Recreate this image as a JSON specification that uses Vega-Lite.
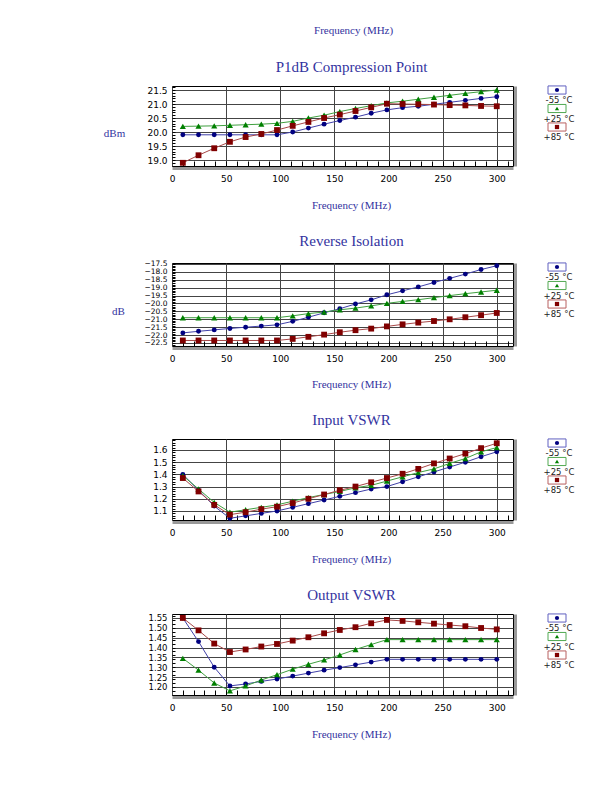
{
"$schema":"https://vega.github.io/schema/vega-lite/v6.json",
"padding":{"left":102,"top":24,"right":5,"bottom":5},
"title":{"text":"Frequency (MHz)","fontSize":11,"anchor":"middle","offset":24,"dx":15},
"datasets":{
"p1":[
{"f":10,"s":"m55","v":19.9},{"f":24.5,"s":"m55","v":19.9},{"f":39,"s":"m55","v":19.9},{"f":53.5,"s":"m55","v":19.9},{"f":68,"s":"m55","v":19.9},{"f":82.5,"s":"m55","v":19.9},{"f":97,"s":"m55","v":19.9},{"f":111.5,"s":"m55","v":20.0},{"f":126,"s":"m55","v":20.14},{"f":140.5,"s":"m55","v":20.28},{"f":155,"s":"m55","v":20.41},{"f":169.5,"s":"m55","v":20.53},{"f":184,"s":"m55","v":20.67},{"f":198.5,"s":"m55","v":20.79},{"f":213,"s":"m55","v":20.87},{"f":227.5,"s":"m55","v":20.92},{"f":242,"s":"m55","v":20.99},{"f":256.5,"s":"m55","v":21.06},{"f":271,"s":"m55","v":21.13},{"f":285.5,"s":"m55","v":21.2},{"f":300,"s":"m55","v":21.26},
{"f":10,"s":"p25","v":20.2},{"f":24.5,"s":"p25","v":20.21},{"f":39,"s":"p25","v":20.22},{"f":53.5,"s":"p25","v":20.24},{"f":68,"s":"p25","v":20.26},{"f":82.5,"s":"p25","v":20.28},{"f":97,"s":"p25","v":20.31},{"f":111.5,"s":"p25","v":20.38},{"f":126,"s":"p25","v":20.5},{"f":140.5,"s":"p25","v":20.6},{"f":155,"s":"p25","v":20.73},{"f":169.5,"s":"p25","v":20.84},{"f":184,"s":"p25","v":20.94},{"f":198.5,"s":"p25","v":21.04},{"f":213,"s":"p25","v":21.1},{"f":227.5,"s":"p25","v":21.17},{"f":242,"s":"p25","v":21.24},{"f":256.5,"s":"p25","v":21.31},{"f":271,"s":"p25","v":21.38},{"f":285.5,"s":"p25","v":21.44},{"f":300,"s":"p25","v":21.5},
{"f":10,"s":"p85","v":18.9},{"f":24.5,"s":"p85","v":19.17},{"f":39,"s":"p85","v":19.42},{"f":53.5,"s":"p85","v":19.65},{"f":68,"s":"p85","v":19.82},{"f":82.5,"s":"p85","v":19.93},{"f":97,"s":"p85","v":20.07},{"f":111.5,"s":"p85","v":20.22},{"f":126,"s":"p85","v":20.36},{"f":140.5,"s":"p85","v":20.5},{"f":155,"s":"p85","v":20.62},{"f":169.5,"s":"p85","v":20.75},{"f":184,"s":"p85","v":20.88},{"f":198.5,"s":"p85","v":21.01},{"f":213,"s":"p85","v":21.0},{"f":227.5,"s":"p85","v":20.99},{"f":242,"s":"p85","v":20.98},{"f":256.5,"s":"p85","v":20.96},{"f":271,"s":"p85","v":20.95},{"f":285.5,"s":"p85","v":20.93},{"f":300,"s":"p85","v":20.92}
],
"ri":[
{"f":10,"s":"m55","v":-21.86},{"f":24.5,"s":"m55","v":-21.76},{"f":39,"s":"m55","v":-21.67},{"f":53.5,"s":"m55","v":-21.58},{"f":68,"s":"m55","v":-21.5},{"f":82.5,"s":"m55","v":-21.43},{"f":97,"s":"m55","v":-21.35},{"f":111.5,"s":"m55","v":-21.13},{"f":126,"s":"m55","v":-20.87},{"f":140.5,"s":"m55","v":-20.59},{"f":155,"s":"m55","v":-20.33},{"f":169.5,"s":"m55","v":-20.03},{"f":184,"s":"m55","v":-19.77},{"f":198.5,"s":"m55","v":-19.45},{"f":213,"s":"m55","v":-19.2},{"f":227.5,"s":"m55","v":-18.95},{"f":242,"s":"m55","v":-18.67},{"f":256.5,"s":"m55","v":-18.41},{"f":271,"s":"m55","v":-18.14},{"f":285.5,"s":"m55","v":-17.85},{"f":300,"s":"m55","v":-17.61},
{"f":10,"s":"p25","v":-20.9},{"f":24.5,"s":"p25","v":-20.9},{"f":39,"s":"p25","v":-20.9},{"f":53.5,"s":"p25","v":-20.9},{"f":68,"s":"p25","v":-20.9},{"f":82.5,"s":"p25","v":-20.9},{"f":97,"s":"p25","v":-20.9},{"f":111.5,"s":"p25","v":-20.78},{"f":126,"s":"p25","v":-20.64},{"f":140.5,"s":"p25","v":-20.54},{"f":155,"s":"p25","v":-20.4},{"f":169.5,"s":"p25","v":-20.29},{"f":184,"s":"p25","v":-20.15},{"f":198.5,"s":"p25","v":-19.99},{"f":213,"s":"p25","v":-19.87},{"f":227.5,"s":"p25","v":-19.76},{"f":242,"s":"p25","v":-19.63},{"f":256.5,"s":"p25","v":-19.5},{"f":271,"s":"p25","v":-19.38},{"f":285.5,"s":"p25","v":-19.27},{"f":300,"s":"p25","v":-19.16},
{"f":10,"s":"p85","v":-22.34},{"f":24.5,"s":"p85","v":-22.34},{"f":39,"s":"p85","v":-22.34},{"f":53.5,"s":"p85","v":-22.34},{"f":68,"s":"p85","v":-22.34},{"f":82.5,"s":"p85","v":-22.34},{"f":97,"s":"p85","v":-22.34},{"f":111.5,"s":"p85","v":-22.24},{"f":126,"s":"p85","v":-22.11},{"f":140.5,"s":"p85","v":-21.97},{"f":155,"s":"p85","v":-21.82},{"f":169.5,"s":"p85","v":-21.69},{"f":184,"s":"p85","v":-21.59},{"f":198.5,"s":"p85","v":-21.45},{"f":213,"s":"p85","v":-21.32},{"f":227.5,"s":"p85","v":-21.21},{"f":242,"s":"p85","v":-21.11},{"f":256.5,"s":"p85","v":-21.0},{"f":271,"s":"p85","v":-20.87},{"f":285.5,"s":"p85","v":-20.74},{"f":300,"s":"p85","v":-20.6}
],
"iv":[
{"f":10,"s":"m55","v":1.4},{"f":24.5,"s":"m55","v":1.27},{"f":39,"s":"m55","v":1.14},{"f":53.5,"s":"m55","v":1.04},{"f":68,"s":"m55","v":1.06},{"f":82.5,"s":"m55","v":1.08},{"f":97,"s":"m55","v":1.1},{"f":111.5,"s":"m55","v":1.13},{"f":126,"s":"m55","v":1.16},{"f":140.5,"s":"m55","v":1.19},{"f":155,"s":"m55","v":1.22},{"f":169.5,"s":"m55","v":1.25},{"f":184,"s":"m55","v":1.28},{"f":198.5,"s":"m55","v":1.3},{"f":213,"s":"m55","v":1.34},{"f":227.5,"s":"m55","v":1.38},{"f":242,"s":"m55","v":1.42},{"f":256.5,"s":"m55","v":1.46},{"f":271,"s":"m55","v":1.5},{"f":285.5,"s":"m55","v":1.545},{"f":300,"s":"m55","v":1.585},
{"f":10,"s":"p25","v":1.39},{"f":24.5,"s":"p25","v":1.28},{"f":39,"s":"p25","v":1.17},{"f":53.5,"s":"p25","v":1.09},{"f":68,"s":"p25","v":1.11},{"f":82.5,"s":"p25","v":1.13},{"f":97,"s":"p25","v":1.15},{"f":111.5,"s":"p25","v":1.18},{"f":126,"s":"p25","v":1.21},{"f":140.5,"s":"p25","v":1.235},{"f":155,"s":"p25","v":1.26},{"f":169.5,"s":"p25","v":1.29},{"f":184,"s":"p25","v":1.31},{"f":198.5,"s":"p25","v":1.345},{"f":213,"s":"p25","v":1.38},{"f":227.5,"s":"p25","v":1.415},{"f":242,"s":"p25","v":1.445},{"f":256.5,"s":"p25","v":1.49},{"f":271,"s":"p25","v":1.53},{"f":285.5,"s":"p25","v":1.585},{"f":300,"s":"p25","v":1.62},
{"f":10,"s":"p85","v":1.37},{"f":24.5,"s":"p85","v":1.26},{"f":39,"s":"p85","v":1.15},{"f":53.5,"s":"p85","v":1.07},{"f":68,"s":"p85","v":1.09},{"f":82.5,"s":"p85","v":1.115},{"f":97,"s":"p85","v":1.135},{"f":111.5,"s":"p85","v":1.165},{"f":126,"s":"p85","v":1.2},{"f":140.5,"s":"p85","v":1.235},{"f":155,"s":"p85","v":1.27},{"f":169.5,"s":"p85","v":1.3},{"f":184,"s":"p85","v":1.335},{"f":198.5,"s":"p85","v":1.37},{"f":213,"s":"p85","v":1.405},{"f":227.5,"s":"p85","v":1.445},{"f":242,"s":"p85","v":1.49},{"f":256.5,"s":"p85","v":1.53},{"f":271,"s":"p85","v":1.57},{"f":285.5,"s":"p85","v":1.615},{"f":300,"s":"p85","v":1.655}
],
"ov":[
{"f":10,"s":"m55","v":1.55},{"f":24.5,"s":"m55","v":1.43},{"f":39,"s":"m55","v":1.3},{"f":53.5,"s":"m55","v":1.205},{"f":68,"s":"m55","v":1.215},{"f":82.5,"s":"m55","v":1.228},{"f":97,"s":"m55","v":1.24},{"f":111.5,"s":"m55","v":1.255},{"f":126,"s":"m55","v":1.27},{"f":140.5,"s":"m55","v":1.285},{"f":155,"s":"m55","v":1.298},{"f":169.5,"s":"m55","v":1.312},{"f":184,"s":"m55","v":1.326},{"f":198.5,"s":"m55","v":1.34},{"f":213,"s":"m55","v":1.34},{"f":227.5,"s":"m55","v":1.34},{"f":242,"s":"m55","v":1.34},{"f":256.5,"s":"m55","v":1.34},{"f":271,"s":"m55","v":1.34},{"f":285.5,"s":"m55","v":1.34},{"f":300,"s":"m55","v":1.34},
{"f":10,"s":"p25","v":1.345},{"f":24.5,"s":"p25","v":1.285},{"f":39,"s":"p25","v":1.22},{"f":53.5,"s":"p25","v":1.18},{"f":68,"s":"p25","v":1.205},{"f":82.5,"s":"p25","v":1.235},{"f":97,"s":"p25","v":1.262},{"f":111.5,"s":"p25","v":1.29},{"f":126,"s":"p25","v":1.315},{"f":140.5,"s":"p25","v":1.337},{"f":155,"s":"p25","v":1.362},{"f":169.5,"s":"p25","v":1.39},{"f":184,"s":"p25","v":1.415},{"f":198.5,"s":"p25","v":1.44},{"f":213,"s":"p25","v":1.44},{"f":227.5,"s":"p25","v":1.44},{"f":242,"s":"p25","v":1.44},{"f":256.5,"s":"p25","v":1.44},{"f":271,"s":"p25","v":1.44},{"f":285.5,"s":"p25","v":1.44},{"f":300,"s":"p25","v":1.44},
{"f":10,"s":"p85","v":1.55},{"f":24.5,"s":"p85","v":1.487},{"f":39,"s":"p85","v":1.42},{"f":53.5,"s":"p85","v":1.377},{"f":68,"s":"p85","v":1.39},{"f":82.5,"s":"p85","v":1.405},{"f":97,"s":"p85","v":1.418},{"f":111.5,"s":"p85","v":1.435},{"f":126,"s":"p85","v":1.452},{"f":140.5,"s":"p85","v":1.472},{"f":155,"s":"p85","v":1.489},{"f":169.5,"s":"p85","v":1.503},{"f":184,"s":"p85","v":1.523},{"f":198.5,"s":"p85","v":1.54},{"f":213,"s":"p85","v":1.535},{"f":227.5,"s":"p85","v":1.528},{"f":242,"s":"p85","v":1.521},{"f":256.5,"s":"p85","v":1.514},{"f":271,"s":"p85","v":1.508},{"f":285.5,"s":"p85","v":1.499},{"f":300,"s":"p85","v":1.492}
],
"leg":[{"s":"m55","lab":"-55 °C"},{"s":"p25","lab":"+25 °C"},{"s":"p85","lab":"+85 °C"}]
},
"columns":2,
"spacing":{"row":22,"column":27},
"concat":[
{"width":341,"height":80,"view":{"stroke":"black"},
 "title":{"text":"P1dB Compression Point","frame":"group","dx":9,"offset":11},
 "data":{"name":"p1"},
 "layer":[
  {"mark":{"type":"line","strokeWidth":1},
   "encoding":{
    "x":{"field":"f","type":"quantitative","scale":{"domain":[0,315],"nice":false,"zero":false},"axis":{"orient":"bottom","values":[0,50,100,150,200,250,300],"grid":true,"labelPadding":8,"labelFlush":false,"title":"Frequency (MHz)","titleX":179,"titleY":39,"titleAlign":"center","titleBaseline":"middle"}},
    "y":{"field":"v","type":"quantitative","scale":{"domain":[18.786,21.643],"nice":false,"zero":false},"axis":{"orient":"left","values":[19,19.5,20,20.5,21,21.5],"format":".1f","grid":true,"labelPadding":5,"title":"dBm","titleAngle":0,"titleX":-58,"titleY":47,"titleAlign":"center","titleBaseline":"middle"}},
    "color":{"field":"s","type":"nominal","scale":{"domain":["m55","p25","p85"],"range":["#4040a8","#40a040","#a84848"]},"legend":null}}},
  {"mark":{"type":"point","filled":true,"opacity":1},
   "encoding":{
    "x":{"field":"f","type":"quantitative","scale":{"domain":[0,315],"nice":false,"zero":false},"axis":{"orient":"bottom","values":[10,20,30,40,50,60,70,80,90,100,110,120,130,140,150,160,170,180,190,200,210,220,230,240,250,260,270,280,290,300,310],"ticks":true,"tickSize":-5,"labels":false,"grid":false,"title":null}},
    "y":{"field":"v","type":"quantitative","scale":{"domain":[18.786,21.643],"nice":false,"zero":false},"axis":{"orient":"left","tickCount":28,"ticks":true,"tickSize":-3,"labels":false,"grid":false,"title":null}},
    "color":{"field":"s","type":"nominal","scale":{"domain":["m55","p25","p85"],"range":["#000080","#008000","#800000"]},"legend":null},
    "shape":{"field":"s","type":"nominal","scale":{"domain":["m55","p25","p85"],"range":["circle","triangle-up","square"]},"legend":null},
    "size":{"field":"s","type":"nominal","scale":{"type":"ordinal","domain":["m55","p25","p85"],"range":[24,38,34]},"legend":null}}},
  {"mark":{"type":"line","strokeOpacity":0},
   "encoding":{
    "x":{"field":"f","type":"quantitative","scale":{"domain":[0,315],"nice":false,"zero":false},"axis":{"orient":"bottom","offset":2,"domain":true,"domainColor":"#999","domainWidth":3,"labels":false,"grid":false,"title":null}},
    "y":{"field":"v","type":"quantitative","scale":{"domain":[18.786,21.643],"nice":false,"zero":false},"axis":{"orient":"right","offset":2,"domain":true,"domainColor":"#999","domainWidth":3,"labels":false,"grid":false,"title":null}},
    "detail":{"field":"s"}}}
 ],
 "resolve":{"axis":{"x":"independent","y":"independent"},"scale":{"color":"independent"}}
},
{"width":20,"height":45,"view":{"stroke":null},"data":{"name":"leg"},
 "layer":[
  {"mark":{"type":"point","shape":"M-1,-0.45L1,-0.45L1,0.45L-1,0.45Z","size":324,"filled":true,"fill":"white","strokeWidth":1,"opacity":1},
   "encoding":{"y":{"field":"s","type":"nominal","sort":null,"axis":null,"scale":{"type":"point","domain":["m55","p25","p85"],"range":[4,41],"padding":0}},
    "stroke":{"field":"s","type":"nominal","scale":{"domain":["m55","p25","p85"],"range":["#6060c0","#50a850","#b86060"]},"legend":null}}},
  {"mark":{"type":"point","filled":true,"size":18,"opacity":1},
   "encoding":{"y":{"field":"s","type":"nominal","sort":null,"axis":null,"scale":{"type":"point","domain":["m55","p25","p85"],"range":[4,41],"padding":0}},
    "color":{"field":"s","type":"nominal","scale":{"domain":["m55","p25","p85"],"range":["#000080","#008000","#800000"]},"legend":null},
    "shape":{"field":"s","type":"nominal","scale":{"domain":["m55","p25","p85"],"range":["circle","triangle-up","square"]},"legend":null}}},
  {"mark":{"type":"text","dy":10,"dx":2,"baseline":"middle","align":"center","font":"DejaVu Sans","fontSize":8.5,"color":"#222"},
   "encoding":{"y":{"field":"s","type":"nominal","sort":null,"axis":null,"scale":{"type":"point","domain":["m55","p25","p85"],"range":[4,41],"padding":0}},"text":{"field":"lab"}}}
 ],
 "resolve":{"scale":{"color":"independent"}}
},
{"width":341,"height":83,"view":{"stroke":"black"},
 "title":{"text":"Reverse Isolation","frame":"group","dx":9,"offset":11},
 "data":{"name":"ri"},
 "layer":[
  {"mark":{"type":"line","strokeWidth":1},
   "encoding":{
    "x":{"field":"f","type":"quantitative","scale":{"domain":[0,315],"nice":false,"zero":false},"axis":{"orient":"bottom","values":[0,50,100,150,200,250,300],"grid":true,"labelPadding":8,"labelFlush":false,"title":"Frequency (MHz)","titleX":179,"titleY":38,"titleAlign":"center","titleBaseline":"middle"}},
    "y":{"field":"v","type":"quantitative","scale":{"domain":[-22.69,-17.437],"nice":false,"zero":false},"axis":{"orient":"left","values":[-22.5,-22,-21.5,-21,-20.5,-20,-19.5,-19,-18.5,-18,-17.5],"format":".1f","grid":true,"labelPadding":5,"labelFontSize":7.5,"labelOverlap":false,"title":"dB","titleAngle":0,"titleX":-54,"titleY":48,"titleAlign":"center","titleBaseline":"middle"}},
    "color":{"field":"s","type":"nominal","scale":{"domain":["m55","p25","p85"],"range":["#4040a8","#40a040","#a84848"]},"legend":null}}},
  {"mark":{"type":"point","filled":true,"opacity":1},
   "encoding":{
    "x":{"field":"f","type":"quantitative","scale":{"domain":[0,315],"nice":false,"zero":false},"axis":{"orient":"bottom","values":[10,20,30,40,50,60,70,80,90,100,110,120,130,140,150,160,170,180,190,200,210,220,230,240,250,260,270,280,290,300,310],"ticks":true,"tickSize":-5,"labels":false,"grid":false,"title":null}},
    "y":{"field":"v","type":"quantitative","scale":{"domain":[-22.69,-17.437],"nice":false,"zero":false},"axis":{"orient":"left","tickCount":50,"ticks":true,"tickSize":-3,"labels":false,"grid":false,"title":null}},
    "color":{"field":"s","type":"nominal","scale":{"domain":["m55","p25","p85"],"range":["#000080","#008000","#800000"]},"legend":null},
    "shape":{"field":"s","type":"nominal","scale":{"domain":["m55","p25","p85"],"range":["circle","triangle-up","square"]},"legend":null},
    "size":{"field":"s","type":"nominal","scale":{"type":"ordinal","domain":["m55","p25","p85"],"range":[24,38,34]},"legend":null}}},
  {"mark":{"type":"line","strokeOpacity":0},
   "encoding":{
    "x":{"field":"f","type":"quantitative","scale":{"domain":[0,315],"nice":false,"zero":false},"axis":{"orient":"bottom","offset":2,"domain":true,"domainColor":"#999","domainWidth":3,"labels":false,"grid":false,"title":null}},
    "y":{"field":"v","type":"quantitative","scale":{"domain":[-22.69,-17.437],"nice":false,"zero":false},"axis":{"orient":"right","offset":2,"domain":true,"domainColor":"#999","domainWidth":3,"labels":false,"grid":false,"title":null}},
    "detail":{"field":"s"}}}
 ],
 "resolve":{"axis":{"x":"independent","y":"independent"},"scale":{"color":"independent"}}
},
{"width":20,"height":45,"view":{"stroke":null},"data":{"name":"leg"},
 "layer":[
  {"mark":{"type":"point","shape":"M-1,-0.45L1,-0.45L1,0.45L-1,0.45Z","size":324,"filled":true,"fill":"white","strokeWidth":1,"opacity":1},
   "encoding":{"y":{"field":"s","type":"nominal","sort":null,"axis":null,"scale":{"type":"point","domain":["m55","p25","p85"],"range":[4,41],"padding":0}},
    "stroke":{"field":"s","type":"nominal","scale":{"domain":["m55","p25","p85"],"range":["#6060c0","#50a850","#b86060"]},"legend":null}}},
  {"mark":{"type":"point","filled":true,"size":18,"opacity":1},
   "encoding":{"y":{"field":"s","type":"nominal","sort":null,"axis":null,"scale":{"type":"point","domain":["m55","p25","p85"],"range":[4,41],"padding":0}},
    "color":{"field":"s","type":"nominal","scale":{"domain":["m55","p25","p85"],"range":["#000080","#008000","#800000"]},"legend":null},
    "shape":{"field":"s","type":"nominal","scale":{"domain":["m55","p25","p85"],"range":["circle","triangle-up","square"]},"legend":null}}},
  {"mark":{"type":"text","dy":10,"dx":2,"baseline":"middle","align":"center","font":"DejaVu Sans","fontSize":8.5,"color":"#222"},
   "encoding":{"y":{"field":"s","type":"nominal","sort":null,"axis":null,"scale":{"type":"point","domain":["m55","p25","p85"],"range":[4,41],"padding":0}},"text":{"field":"lab"}}}
 ],
 "resolve":{"scale":{"color":"independent"}}
},
{"width":341,"height":81,"view":{"stroke":"black"},
 "title":{"text":"Input VSWR","frame":"group","dx":9,"offset":11},
 "data":{"name":"iv"},
 "layer":[
  {"mark":{"type":"line","strokeWidth":1},
   "encoding":{
    "x":{"field":"f","type":"quantitative","scale":{"domain":[0,315],"nice":false,"zero":false},"axis":{"orient":"bottom","values":[0,50,100,150,200,250,300],"grid":true,"labelPadding":8,"labelFlush":false,"title":"Frequency (MHz)","titleX":179,"titleY":39,"titleAlign":"center","titleBaseline":"middle"}},
    "y":{"field":"v","type":"quantitative","scale":{"domain":[1.026,1.69],"nice":false,"zero":false},"axis":{"orient":"left","values":[1.1,1.2,1.3,1.4,1.5,1.6],"format":".1f","grid":true,"labelPadding":5,"title":null}},
    "color":{"field":"s","type":"nominal","scale":{"domain":["m55","p25","p85"],"range":["#4040a8","#40a040","#a84848"]},"legend":null}}},
  {"mark":{"type":"point","filled":true,"opacity":1},
   "encoding":{
    "x":{"field":"f","type":"quantitative","scale":{"domain":[0,315],"nice":false,"zero":false},"axis":{"orient":"bottom","values":[10,20,30,40,50,60,70,80,90,100,110,120,130,140,150,160,170,180,190,200,210,220,230,240,250,260,270,280,290,300,310],"ticks":true,"tickSize":-5,"labels":false,"grid":false,"title":null}},
    "y":{"field":"v","type":"quantitative","scale":{"domain":[1.026,1.69],"nice":false,"zero":false},"axis":{"orient":"left","tickCount":33,"ticks":true,"tickSize":-3,"labels":false,"grid":false,"title":null}},
    "color":{"field":"s","type":"nominal","scale":{"domain":["m55","p25","p85"],"range":["#000080","#008000","#800000"]},"legend":null},
    "shape":{"field":"s","type":"nominal","scale":{"domain":["m55","p25","p85"],"range":["circle","triangle-up","square"]},"legend":null},
    "size":{"field":"s","type":"nominal","scale":{"type":"ordinal","domain":["m55","p25","p85"],"range":[24,38,34]},"legend":null}}},
  {"mark":{"type":"line","strokeOpacity":0},
   "encoding":{
    "x":{"field":"f","type":"quantitative","scale":{"domain":[0,315],"nice":false,"zero":false},"axis":{"orient":"bottom","offset":2,"domain":true,"domainColor":"#999","domainWidth":3,"labels":false,"grid":false,"title":null}},
    "y":{"field":"v","type":"quantitative","scale":{"domain":[1.026,1.69],"nice":false,"zero":false},"axis":{"orient":"right","offset":2,"domain":true,"domainColor":"#999","domainWidth":3,"labels":false,"grid":false,"title":null}},
    "detail":{"field":"s"}}}
 ],
 "resolve":{"axis":{"x":"independent","y":"independent"},"scale":{"color":"independent"}}
},
{"width":20,"height":45,"view":{"stroke":null},"data":{"name":"leg"},
 "layer":[
  {"mark":{"type":"point","shape":"M-1,-0.45L1,-0.45L1,0.45L-1,0.45Z","size":324,"filled":true,"fill":"white","strokeWidth":1,"opacity":1},
   "encoding":{"y":{"field":"s","type":"nominal","sort":null,"axis":null,"scale":{"type":"point","domain":["m55","p25","p85"],"range":[4,41],"padding":0}},
    "stroke":{"field":"s","type":"nominal","scale":{"domain":["m55","p25","p85"],"range":["#6060c0","#50a850","#b86060"]},"legend":null}}},
  {"mark":{"type":"point","filled":true,"size":18,"opacity":1},
   "encoding":{"y":{"field":"s","type":"nominal","sort":null,"axis":null,"scale":{"type":"point","domain":["m55","p25","p85"],"range":[4,41],"padding":0}},
    "color":{"field":"s","type":"nominal","scale":{"domain":["m55","p25","p85"],"range":["#000080","#008000","#800000"]},"legend":null},
    "shape":{"field":"s","type":"nominal","scale":{"domain":["m55","p25","p85"],"range":["circle","triangle-up","square"]},"legend":null}}},
  {"mark":{"type":"text","dy":10,"dx":2,"baseline":"middle","align":"center","font":"DejaVu Sans","fontSize":8.5,"color":"#222"},
   "encoding":{"y":{"field":"s","type":"nominal","sort":null,"axis":null,"scale":{"type":"point","domain":["m55","p25","p85"],"range":[4,41],"padding":0}},"text":{"field":"lab"}}}
 ],
 "resolve":{"scale":{"color":"independent"}}
},
{"width":341,"height":81,"view":{"stroke":"black"},
 "title":{"text":"Output VSWR","frame":"group","dx":9,"offset":11},
 "data":{"name":"ov"},
 "layer":[
  {"mark":{"type":"line","strokeWidth":1},
   "encoding":{
    "x":{"field":"f","type":"quantitative","scale":{"domain":[0,315],"nice":false,"zero":false},"axis":{"orient":"bottom","values":[0,50,100,150,200,250,300],"grid":true,"labelPadding":8,"labelFlush":false,"title":"Frequency (MHz)","titleX":179,"titleY":39,"titleAlign":"center","titleBaseline":"middle"}},
    "y":{"field":"v","type":"quantitative","scale":{"domain":[1.159,1.57],"nice":false,"zero":false},"axis":{"orient":"left","values":[1.2,1.25,1.3,1.35,1.4,1.45,1.5,1.55],"format":".2f","grid":true,"labelPadding":5,"labelFontSize":8.5,"labelOverlap":false,"title":null}},
    "color":{"field":"s","type":"nominal","scale":{"domain":["m55","p25","p85"],"range":["#4040a8","#40a040","#a84848"]},"legend":null}}},
  {"mark":{"type":"point","filled":true,"opacity":1},
   "encoding":{
    "x":{"field":"f","type":"quantitative","scale":{"domain":[0,315],"nice":false,"zero":false},"axis":{"orient":"bottom","values":[10,20,30,40,50,60,70,80,90,100,110,120,130,140,150,160,170,180,190,200,210,220,230,240,250,260,270,280,290,300,310],"ticks":true,"tickSize":-5,"labels":false,"grid":false,"title":null}},
    "y":{"field":"v","type":"quantitative","scale":{"domain":[1.159,1.57],"nice":false,"zero":false},"axis":{"orient":"left","tickCount":20,"ticks":true,"tickSize":-3,"labels":false,"grid":false,"title":null}},
    "color":{"field":"s","type":"nominal","scale":{"domain":["m55","p25","p85"],"range":["#000080","#008000","#800000"]},"legend":null},
    "shape":{"field":"s","type":"nominal","scale":{"domain":["m55","p25","p85"],"range":["circle","triangle-up","square"]},"legend":null},
    "size":{"field":"s","type":"nominal","scale":{"type":"ordinal","domain":["m55","p25","p85"],"range":[24,38,34]},"legend":null}}},
  {"mark":{"type":"line","strokeOpacity":0},
   "encoding":{
    "x":{"field":"f","type":"quantitative","scale":{"domain":[0,315],"nice":false,"zero":false},"axis":{"orient":"bottom","offset":2,"domain":true,"domainColor":"#999","domainWidth":3,"labels":false,"grid":false,"title":null}},
    "y":{"field":"v","type":"quantitative","scale":{"domain":[1.159,1.57],"nice":false,"zero":false},"axis":{"orient":"right","offset":2,"domain":true,"domainColor":"#999","domainWidth":3,"labels":false,"grid":false,"title":null}},
    "detail":{"field":"s"}}}
 ],
 "resolve":{"axis":{"x":"independent","y":"independent"},"scale":{"color":"independent"}}
},
{"width":20,"height":45,"view":{"stroke":null},"data":{"name":"leg"},
 "layer":[
  {"mark":{"type":"point","shape":"M-1,-0.45L1,-0.45L1,0.45L-1,0.45Z","size":324,"filled":true,"fill":"white","strokeWidth":1,"opacity":1},
   "encoding":{"y":{"field":"s","type":"nominal","sort":null,"axis":null,"scale":{"type":"point","domain":["m55","p25","p85"],"range":[4,41],"padding":0}},
    "stroke":{"field":"s","type":"nominal","scale":{"domain":["m55","p25","p85"],"range":["#6060c0","#50a850","#b86060"]},"legend":null}}},
  {"mark":{"type":"point","filled":true,"size":18,"opacity":1},
   "encoding":{"y":{"field":"s","type":"nominal","sort":null,"axis":null,"scale":{"type":"point","domain":["m55","p25","p85"],"range":[4,41],"padding":0}},
    "color":{"field":"s","type":"nominal","scale":{"domain":["m55","p25","p85"],"range":["#000080","#008000","#800000"]},"legend":null},
    "shape":{"field":"s","type":"nominal","scale":{"domain":["m55","p25","p85"],"range":["circle","triangle-up","square"]},"legend":null}}},
  {"mark":{"type":"text","dy":10,"dx":2,"baseline":"middle","align":"center","font":"DejaVu Sans","fontSize":8.5,"color":"#222"},
   "encoding":{"y":{"field":"s","type":"nominal","sort":null,"axis":null,"scale":{"type":"point","domain":["m55","p25","p85"],"range":[4,41],"padding":0}},"text":{"field":"lab"}}}
 ],
 "resolve":{"scale":{"color":"independent"}}
}
],
"config":{
 "view":{"stroke":null},
 "font":"DejaVu Sans",
 "title":{"font":"Liberation Serif","fontWeight":"normal","color":"#3333a0","fontSize":15},
 "axis":{"labelFont":"DejaVu Sans","labelFontSize":9,"labelColor":"#000","titleFont":"Liberation Serif","titleFontSize":11,"titleFontWeight":"normal","titleColor":"#3333a0","gridColor":"#444","gridOpacity":1,"gridWidth":1,"domain":false,"ticks":false,"tickColor":"#000","tickWidth":1}
}
}
